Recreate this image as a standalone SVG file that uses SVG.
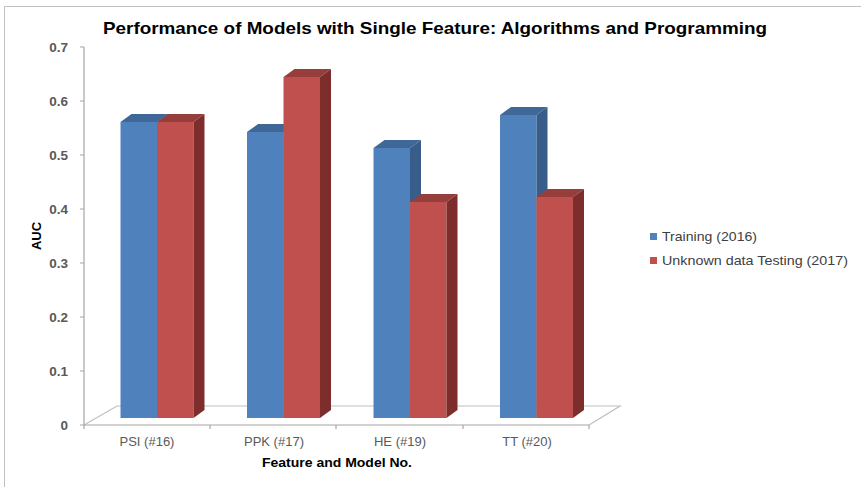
<svg xmlns="http://www.w3.org/2000/svg" width="861" height="487" viewBox="0 0 861 487">
<style>
.frame{stroke:#c0c0c0;stroke-width:1;fill:none}
.axis{stroke:#a6a6a6;stroke-width:1.2;fill:none}
.floor{stroke:#bfbfbf;stroke-width:1.2;fill:none}
.ylab{font-family:"Liberation Sans",Arial,sans-serif;font-size:13.5px;font-weight:bold;fill:#595959;text-anchor:end}
.xlab{font-family:"Liberation Sans",Arial,sans-serif;font-size:13px;fill:#595959;text-anchor:middle}
.ttl{font-family:"Liberation Sans",Arial,sans-serif;font-weight:bold;fill:#000}
.leg{font-family:"Liberation Sans",Arial,sans-serif;font-size:13.5px;fill:#404040}
.bf{fill:#4F81BD}.bt{fill:#3F6797}.bs{fill:#385D8A}
.rf{fill:#C0504D}.rt{fill:#963E3B}.rs{fill:#7D2E2C}
</style>
<rect x="0" y="0" width="861" height="487" fill="#ffffff"/>
<path class="frame" d="M4.5,487 V6.5 H861"/>
<text class="ttl" x="435" y="34" font-size="16.5" text-anchor="middle" textLength="664" lengthAdjust="spacingAndGlyphs">Performance of Models with Single Feature: Algorithms and Programming</text>

<g id="axes">
<path class="floor" d="M84,425 L117,406 H620 L589,425"/>
<path class="axis" d="M84,47 V425 H589"/>
<path class="axis" d="M80,47 H84 M80,101 H84 M80,155 H84 M80,209 H84 M80,263 H84 M80,317 H84 M80,371 H84 M80,425 H84 M84,425 V429 M210,425 V429 M336,425 V429 M463,425 V429 M589,425 V429"/>
<text class="ylab" x="68" y="52">0.7</text>
<text class="ylab" x="68" y="106">0.6</text>
<text class="ylab" x="68" y="160">0.5</text>
<text class="ylab" x="68" y="214">0.4</text>
<text class="ylab" x="68" y="268">0.3</text>
<text class="ylab" x="68" y="322">0.2</text>
<text class="ylab" x="68" y="376">0.1</text>
<text class="ylab" x="68" y="430">0</text>
<text class="ttl" font-size="13" transform="translate(41,236) rotate(-90)" text-anchor="middle">AUC</text>
<text class="xlab" x="147" y="446">PSI (#16)</text>
<text class="xlab" x="274" y="446">PPK (#17)</text>
<text class="xlab" x="400" y="446">HE (#19)</text>
<text class="xlab" x="527" y="446">TT (#20)</text>
<text class="ttl" font-size="13" x="337" y="467" text-anchor="middle" textLength="150" lengthAdjust="spacingAndGlyphs">Feature and Model No.</text>
</g>

<g id="psi">
<rect class="bf" x="120.5" y="122" width="36.5" height="296"/>
<polygon class="bt" points="120.5,122 157,122 168,114 131.5,114"/>
<polygon class="bs" points="157,122 168,114 168,410 157,418"/>
<rect class="rf" x="157" y="122" width="36.5" height="296"/>
<polygon class="rt" points="157,122 193.5,122 204.5,114 168,114"/>
<polygon class="rs" points="193.5,122 204.5,114 204.5,410 193.5,418"/>
</g>
<g id="ppk">
<rect class="bf" x="247" y="132" width="36.5" height="286"/>
<polygon class="bt" points="247,132 283.5,132 294.5,124 258,124"/>
<polygon class="bs" points="283.5,132 294.5,124 294.5,410 283.5,418"/>
<rect class="rf" x="283.5" y="77" width="36.5" height="341"/>
<polygon class="rt" points="283.5,77 320,77 331,69 294.5,69"/>
<polygon class="rs" points="320,77 331,69 331,410 320,418"/>
</g>
<g id="he">
<rect class="bf" x="373.5" y="148" width="36.5" height="270"/>
<polygon class="bt" points="373.5,148 410,148 421,140 384.5,140"/>
<polygon class="bs" points="410,148 421,140 421,410 410,418"/>
<rect class="rf" x="410" y="202" width="36.5" height="216"/>
<polygon class="rt" points="410,202 446.5,202 457.5,194 421,194"/>
<polygon class="rs" points="446.5,202 457.5,194 457.5,410 446.5,418"/>
</g>
<g id="tt">
<rect class="bf" x="500" y="115" width="36.5" height="303"/>
<polygon class="bt" points="500,115 536.5,115 547.5,107 511,107"/>
<polygon class="bs" points="536.5,115 547.5,107 547.5,410 536.5,418"/>
<rect class="rf" x="536.5" y="197" width="36.5" height="221"/>
<polygon class="rt" points="536.5,197 573,197 584,189 547.5,189"/>
<polygon class="rs" points="573,197 584,189 584,410 573,418"/>
</g>

<g id="legend">
<rect class="bf" x="650" y="233" width="7" height="7"/>
<text class="leg" x="662" y="241" textLength="95" lengthAdjust="spacingAndGlyphs">Training (2016)</text>
<rect class="rf" x="650" y="257" width="7" height="7"/>
<text class="leg" x="662" y="265" textLength="186" lengthAdjust="spacingAndGlyphs">Unknown data Testing (2017)</text>
</g>
</svg>
